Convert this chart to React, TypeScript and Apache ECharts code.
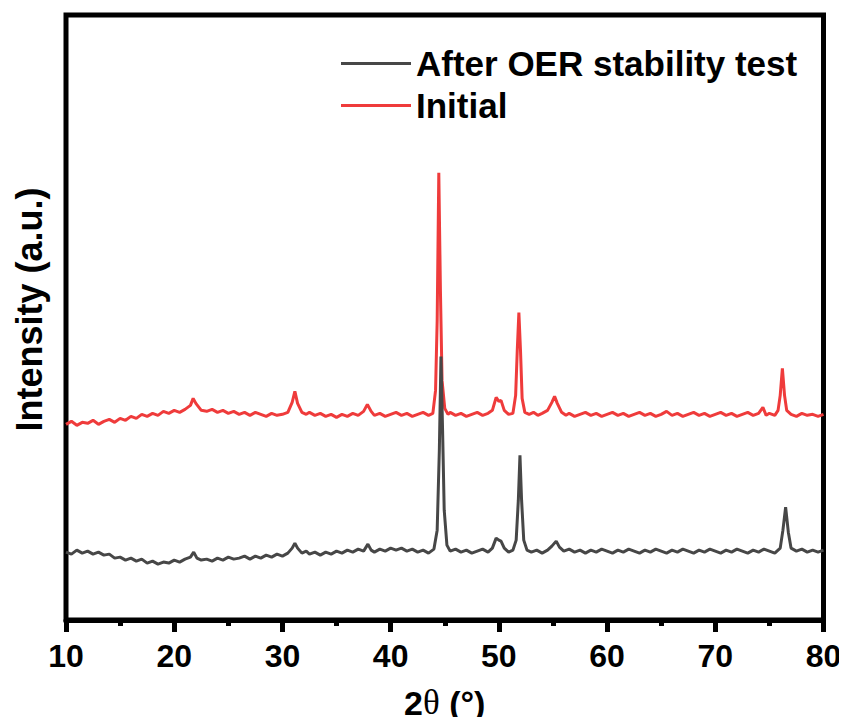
import React, { useEffect, useRef } from "react";
import * as echarts from "echarts";

// 2θ (deg) and intensity (arb. units) for the initial sample
const initialTheta = [
  10, 10.5, 11, 11.5, 12, 12.5, 13, 13.5, 14, 14.5, 15, 15.5, 16, 16.5, 17, 17.5, 18, 18.5, 19, 19.5,
  20, 20.5, 21, 21.5, 21.75, 22, 22.5, 23, 23.5, 24, 24.5, 25, 25.5, 26, 26.5, 27, 27.5, 28, 28.5, 29,
  29.5, 30, 30.5, 30.9, 31.15, 31.4, 31.8, 32.2, 32.5, 33, 33.5, 34, 34.5, 35, 35.5, 36, 36.5, 37, 37.5, 37.85,
  38.2, 38.5, 39, 39.5, 40, 40.5, 41, 41.5, 42, 42.5, 43, 43.5, 43.9, 44.15, 44.3, 44.45, 44.6, 44.75, 45.0, 45.3,
  45.5, 46, 46.5, 47, 47.5, 48, 48.5, 49, 49.4, 49.75, 50.0, 50.2, 50.5, 50.9, 51.3, 51.55, 51.7, 51.85, 52.0, 52.15,
  52.4, 52.8, 53.2, 53.6, 54, 54.5, 54.9, 55.15, 55.4, 55.8, 56.2, 56.5, 57, 57.5, 58, 58.5, 59, 59.5, 60, 60.5,
  61, 61.5, 62, 62.5, 63, 63.5, 64, 64.5, 65, 65.5, 66, 66.5, 67, 67.5, 68, 68.5, 69, 69.5, 70, 70.5,
  71, 71.5, 72, 72.5, 73, 73.5, 74, 74.4, 74.7, 75, 75.5, 75.8, 76.0, 76.2, 76.4, 76.6, 77, 77.5, 78, 78.5,
  79, 79.5, 80,
];
const initialIntensity = [
  196, 199, 195, 198, 197, 200, 196, 199, 201, 198, 202, 200, 204, 202, 206, 204, 207, 205, 209, 207,
  210, 208, 211, 215, 222, 217, 210, 209, 211, 208, 210, 207, 209, 206, 208, 205, 208, 206, 204, 207,
  205, 206, 208, 218, 229, 217, 208, 206, 208, 205, 207, 204, 206, 203, 206, 204, 207, 205, 209, 216,
  209, 205, 207, 204, 206, 208, 205, 207, 204, 206, 208, 205, 207, 230, 300, 448, 330, 240, 212, 206,
  208, 205, 207, 204, 206, 208, 205, 207, 210, 223, 219, 220, 210, 206, 207, 225, 270, 308, 270, 222,
  208, 206, 208, 205, 207, 210, 218, 224, 217, 208, 205, 207, 204, 206, 208, 205, 207, 204, 206, 208,
  205, 207, 204, 206, 208, 205, 207, 204, 206, 209, 205, 207, 204, 206, 208, 205, 207, 204, 206, 208,
  205, 207, 204, 206, 208, 205, 207, 213, 205, 207, 205, 210, 225, 252, 225, 210, 206, 204, 207, 205,
  206, 204, 206,
];

// 2θ (deg) and intensity (arb. units) after the OER stability test
const afterTheta = [
  10, 10.5, 11, 11.5, 12, 12.5, 13, 13.5, 14, 14.5, 15, 15.5, 16, 16.5, 17, 17.5, 18, 18.5, 19, 19.5,
  20, 20.5, 21, 21.5, 21.8, 22.1, 22.5, 23, 23.5, 24, 24.5, 25, 25.5, 26, 26.5, 27, 27.5, 28, 28.5, 29,
  29.5, 30, 30.5, 30.9, 31.15, 31.4, 31.8, 32.2, 32.5, 33, 33.5, 34, 34.5, 35, 35.5, 36, 36.5, 37, 37.5, 37.9,
  38.2, 38.5, 39, 39.5, 40, 40.5, 41, 41.5, 42, 42.5, 43, 43.5, 44, 44.3, 44.5, 44.65, 44.8, 44.95, 45.2, 45.5,
  46, 46.5, 47, 47.5, 48, 48.5, 49, 49.4, 49.75, 50.0, 50.2, 50.5, 50.9, 51.3, 51.6, 51.8, 51.95, 52.1, 52.3, 52.6,
  53, 53.5, 54, 54.5, 54.9, 55.3, 55.6, 56, 56.5, 57, 57.5, 58, 58.5, 59, 59.5, 60, 60.5, 61, 61.5, 62,
  62.5, 63, 63.5, 64, 64.5, 65, 65.5, 66, 66.5, 67, 67.5, 68, 68.5, 69, 69.5, 70, 70.5, 71, 71.5, 72,
  72.5, 73, 73.5, 74, 74.5, 75, 75.5, 76, 76.25, 76.5, 76.75, 77, 77.5, 78, 78.5, 79, 79.5, 80,
];
const afterIntensity = [
  68, 66, 70, 67, 69, 66, 68, 65, 66, 62, 63, 60, 62, 59, 61, 57, 59, 56, 58, 57,
  60, 58, 61, 63, 68, 62, 60, 61, 59, 62, 60, 63, 61, 62, 64, 61, 64, 62, 65, 63,
  66, 64, 67, 72, 77, 72, 67, 69, 66, 68, 65, 68, 66, 69, 67, 70, 68, 71, 69, 76,
  70, 68, 71, 69, 72, 70, 72, 69, 71, 68, 70, 67, 71, 90, 170, 264, 190, 110, 75, 69,
  71, 68, 70, 67, 69, 71, 68, 72, 82, 80, 79, 72, 68, 70, 80, 120, 165, 120, 80, 70,
  68, 70, 67, 70, 74, 79, 73, 69, 71, 68, 70, 67, 70, 68, 71, 69, 67, 70, 68, 71,
  69, 67, 70, 68, 71, 69, 67, 70, 68, 71, 69, 67, 70, 68, 71, 69, 67, 70, 68, 71,
  69, 67, 70, 68, 71, 69, 67, 72, 90, 113, 88, 72, 69, 71, 68, 70, 68, 70,
];

const xTicks = [10, 20, 30, 40, 50, 60, 70, 80];
const seriesNames = ["After OER stability test", "Initial"];

const FONT = "'Liberation Sans', Arial, Helvetica, sans-serif";

export default function App() {
  const ref = useRef<HTMLDivElement>(null);

  useEffect(() => {
    if (!ref.current) return;
    const chart = echarts.init(ref.current, undefined, { renderer: "svg" });
    const zip = (xs: number[], ys: number[]) => xs.map((x, i) => [x, ys[i]]);
    chart.setOption({
      animation: false,
      backgroundColor: "#fff",
      grid: {
        left: 66,
        right: 23.5,
        top: 15,
        bottom: 104,
        show: true,
        borderColor: "#000",
        borderWidth: 5,
        backgroundColor: "transparent",
      },
      legend: {
        orient: "vertical",
        left: 336,
        top: 41,
        itemWidth: 70,
        itemHeight: 3,
        itemGap: 7,
        icon: "rect",
        data: seriesNames,
        textStyle: {
          fontFamily: FONT,
          fontWeight: "bold",
          fontSize: 35,
          color: "#000",
          padding: [0, 0, 0, 0],
        },
      },
      xAxis: {
        type: "value",
        min: xTicks[0],
        max: xTicks[xTicks.length - 1],
        interval: 10,
        axisLine: { show: true, onZero: false, lineStyle: { color: "#000", width: 5 } },
        axisTick: { show: true, length: 12, lineStyle: { color: "#000", width: 5 } },
        minorTick: { show: true, splitNumber: 2, length: 6, lineStyle: { color: "#000", width: 5 } },
        splitLine: { show: false },
        axisLabel: {
          margin: 20,
          fontFamily: FONT,
          fontWeight: "bold",
          fontSize: 32,
          color: "#000",
        },
        name: "{b|2}{t|θ}{b| (°)}",
        nameLocation: "middle",
        nameGap: 65,
        nameTextStyle: {
          rich: {
            b: { fontFamily: FONT, fontWeight: "bold", fontSize: 34, color: "#000" },
            t: { fontFamily: "'Liberation Serif', 'Times New Roman', serif", fontWeight: "normal", fontSize: 35, color: "#000" },
          },
        },
      },
      yAxis: {
        type: "value",
        min: 0,
        max: 606,
        axisLine: { show: false },
        axisTick: { show: false },
        axisLabel: { show: false },
        splitLine: { show: false },
        name: "Intensity (a.u.)",
        nameLocation: "middle",
        nameGap: 19,
        nameTextStyle: {
          fontFamily: FONT,
          fontWeight: "bold",
          fontSize: 36,
          color: "#000",
          padding: [0, 0, 0, 16],
        },
      },
      series: [
        {
          name: seriesNames[1],
          type: "line",
          data: zip(initialTheta, initialIntensity),
          showSymbol: false,
          lineStyle: { color: "#ef3b3b", width: 3 },
          itemStyle: { color: "#ef3b3b" },
        },
        {
          name: seriesNames[0],
          type: "line",
          data: zip(afterTheta, afterIntensity),
          showSymbol: false,
          lineStyle: { color: "#474747", width: 3 },
          itemStyle: { color: "#474747" },
        },
      ],
    });
    return () => chart.dispose();
  }, []);

  return <div ref={ref} style={{ width: 847, height: 725, margin: -8 }} />;
}
